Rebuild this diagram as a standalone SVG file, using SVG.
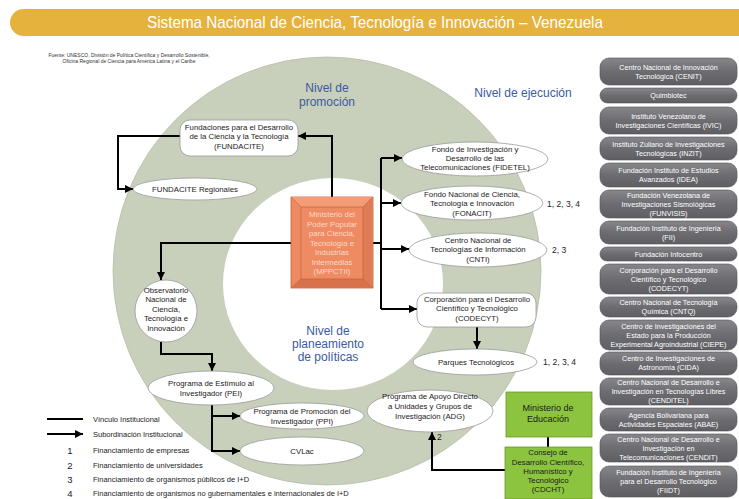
<svg xmlns="http://www.w3.org/2000/svg" width="739" height="499" viewBox="0 0 739 499">
<defs>
<marker id="ah" viewBox="0 0 10 10" refX="10" refY="5" markerWidth="9" markerHeight="8" markerUnits="userSpaceOnUse" orient="auto"><path d="M0,0 L10,5 L0,10 z" fill="#000"/></marker>
<linearGradient id="pg" x1="0" y1="0" x2="0" y2="1"><stop offset="0" stop-color="#86868b"/><stop offset="0.5" stop-color="#6c6c71"/><stop offset="1" stop-color="#5e5e63"/></linearGradient>
</defs>
<style>
text{font-family:"Liberation Sans",Arial,sans-serif}
.n{font-size:7.8px;fill:#1a1a1a;text-anchor:middle}
.ell{fill:#fff;stroke:#9a9a9a;stroke-width:0.8}
.rr{fill:#fff;stroke:#9a9a9a;stroke-width:0.8}
.c{fill:none;stroke:#000;stroke-width:2}
.ca{fill:none;stroke:#000;stroke-width:2;marker-end:url(#ah)}
.pill{fill:url(#pg);stroke:#505055;stroke-width:0.6}
.pt{font-size:7.2px;fill:#fff;text-anchor:middle}
.bl{font-size:12px;fill:#3b5aa0;text-anchor:middle}
.num{font-size:8.5px;fill:#222}
.lg{font-size:7.5px;fill:#222}
.gr{fill:#8cc43f;stroke:#6a9a2c;stroke-width:0.8}
</style>
<rect width="739" height="499" fill="#fff"/>

<g id="banner">
<rect x="10" y="9" width="745" height="27" rx="13.5" fill="#e5b33d"/>
<text x="375" y="28" font-size="17" fill="#fff" text-anchor="middle" textLength="456" lengthAdjust="spacingAndGlyphs">Sistema Nacional de Ciencia, Tecnología e Innovación – Venezuela</text>
</g>
<g id="source" font-size="5" fill="#333" text-anchor="middle">
<text x="129" y="56.5">Fuente: UNESCO, División de Política Científica y Desarrollo Sostenible,</text>
<text x="129" y="62.5">Oficina Regional de Ciencia para América Latina y el Caribe</text>
</g>

<g id="rings">
<circle cx="327" cy="271" r="214" fill="#c8cfba" stroke="#b7bfa8" stroke-width="0.8"/>
<ellipse cx="333" cy="284" rx="110" ry="106" fill="#fff"/>
</g>

<g id="levels">
<text class="bl" x="327" y="92">Nivel de</text>
<text class="bl" x="327" y="106">promoción</text>
<text class="bl" x="523" y="97">Nivel de ejecución</text>
<text class="bl" x="328" y="335" font-size="12.5">Nivel de</text>
<text class="bl" x="328" y="348" font-size="12.5">planeamiento</text>
<text class="bl" x="328" y="361" font-size="12.5">de políticas</text>
</g>

<g id="connectors">
<path class="ca" d="M332 197 V136 H298"/>
<path class="ca" d="M180 136 H118 V189 H133"/>
<path class="ca" d="M291 243 H161 V280"/>
<path class="ca" d="M161 342 V354 H212 V371"/>
<path class="ca" d="M212 405 V451 H240"/>
<path class="ca" d="M212 416 H240"/>
<path class="c" d="M373 243 H381 M381 158 V309"/>
<path class="ca" d="M381 158 H402"/>
<path class="ca" d="M381 203 H401"/>
<path class="ca" d="M381 249 H409"/>
<path class="ca" d="M381 309 H417"/>
<path class="ca" d="M477 327 V349"/>
<path class="c" d="M548 437 V447"/>
<path class="ca" d="M505 470 H432 V432"/>
</g>

<g id="fundacite">
<rect class="rr" x="180" y="120" width="118" height="36" rx="10"/>
<text class="n" x="239" y="129.5">Fundaciones para el Desarrollo</text>
<text class="n" x="239" y="139">de la Ciencia y la Tecnología</text>
<text class="n" x="239" y="148.5">(FUNDACITE)</text>
</g>
<g id="fundacite-regionales">
<ellipse class="ell" cx="195" cy="189" rx="62" ry="11"/>
<text class="n" x="195" y="191.8">FUNDACITE Regionales</text>
</g>

<g id="mppctii">
<rect x="291" y="197" width="82" height="91" fill="#ee8a62" stroke="#c4623e" stroke-width="0.8"/>
<path d="M291 197 L301 207 H363 L373 197 Z" fill="#f29c78"/>
<path d="M291 288 L301 279 H363 L373 288 Z" fill="#d8724c"/>
<path d="M373 197 L363 207 V279 L373 288 Z" fill="#e07c55"/>
<rect x="301" y="207" width="62" height="72" fill="#ef8b62" stroke="#c4623e" stroke-width="0.7"/>
<path d="M291 197 L301 207 M373 197 L363 207 M291 288 L301 279 M373 288 L363 279" stroke="#c4623e" stroke-width="0.7"/>
<g font-size="7.8" fill="#fcd8c8" text-anchor="middle">
<text x="332" y="217">Ministerio del</text>
<text x="332" y="226.5">Poder Popular</text>
<text x="332" y="236">para Ciencia,</text>
<text x="332" y="245.5">Tecnología e</text>
<text x="332" y="255">Industrias</text>
<text x="332" y="264.5">Intermedias</text>
<text x="332" y="274">(MPPCTII)</text>
</g>
</g>

<g id="observatorio">
<circle class="ell" cx="166" cy="311" r="31"/>
<text class="n" x="166" y="292.6">Observatorio</text>
<text class="n" x="166" y="301.9">Nacional de</text>
<text class="n" x="166" y="311.5">Ciencia,</text>
<text class="n" x="166" y="321.4">Tecnología e</text>
<text class="n" x="166" y="330.6">Innovación</text>
</g>
<g id="pei">
<ellipse class="ell" cx="211" cy="388" rx="63" ry="17"/>
<text class="n" x="211" y="385.6">Programa de Estímulo al</text>
<text class="n" x="211" y="395.6">Investigador (PEI)</text>
</g>
<g id="ppi">
<ellipse class="ell" cx="302" cy="416" rx="62" ry="13"/>
<text class="n" x="302" y="414.3">Programa de Promoción del</text>
<text class="n" x="302" y="423.6">Investigador (PPI)</text>
</g>
<g id="cvlac">
<ellipse class="ell" cx="302" cy="451" rx="62" ry="14"/>
<text class="n" x="302" y="454.2" font-size="9">CVLac</text>
</g>
<g id="adg">
<ellipse class="ell" cx="430" cy="411" rx="63" ry="21"/>
<text class="n" x="430" y="399.3">Programa de Apoyo Directo</text>
<text class="n" x="430" y="409.3">a Unidades y Grupos de</text>
<text class="n" x="430" y="418.6">Investigación (ADG)</text>
</g>
<text class="num" x="437" y="440">2</text>

<g id="fidetel">
<ellipse class="ell" cx="475" cy="159" rx="73" ry="17"/>
<text class="n" x="475" y="151.6">Fondo de Investigación y</text>
<text class="n" x="475" y="160.6">Desarrollo de las</text>
<text class="n" x="475" y="170.4">Telecomunicaciones (FIDETEL)</text>
</g>
<g id="fonacit">
<ellipse class="ell" cx="472" cy="203" rx="71" ry="17"/>
<text class="n" x="472" y="196.6">Fondo Nacional de Ciencia,</text>
<text class="n" x="472" y="206.2">Tecnología e Innovación</text>
<text class="n" x="472" y="215.6">(FONACIT)</text>
</g>
<text class="num" x="547" y="207">1, 2, 3, 4</text>
<g id="cnti">
<ellipse class="ell" cx="478" cy="250" rx="69" ry="17"/>
<text class="n" x="478" y="242.6">Centro Nacional de</text>
<text class="n" x="478" y="252.4">Tecnologías de Información</text>
<text class="n" x="478" y="261.6">(CNTI)</text>
</g>
<text class="num" x="552" y="253">2, 3</text>
<g id="codecyt">
<rect class="rr" x="417" y="293" width="119" height="34" rx="10"/>
<text class="n" x="477" y="301.6">Corporación para el Desarrollo</text>
<text class="n" x="477" y="311.4">Científico y Tecnológico</text>
<text class="n" x="477" y="321.4">(CODECYT)</text>
</g>
<g id="parques">
<ellipse class="ell" cx="475" cy="362" rx="62" ry="13"/>
<text class="n" x="476" y="364.8">Parques Tecnológicos</text>
</g>
<text class="num" x="543" y="365">1, 2, 3, 4</text>

<g id="ministerio-educacion">
<rect class="gr" x="506" y="392" width="86" height="45"/>
<text x="548" y="411" font-size="9" fill="#1a1a1a" text-anchor="middle">Ministerio de</text>
<text x="548" y="421.5" font-size="9" fill="#1a1a1a" text-anchor="middle">Educación</text>
</g>
<g id="cdcht">
<rect class="gr" x="505" y="447" width="87" height="52"/>
<text class="n" x="548" y="455.4">Consejo de</text>
<text class="n" x="548" y="465">Desarrollo Científico,</text>
<text class="n" x="548" y="474.4">Humanístico y</text>
<text class="n" x="548" y="483.4">Tecnológico</text>
<text class="n" x="548" y="492">(CDCHT)</text>
</g>

<g id="executors">
<rect class="pill" x="600" y="58" width="137" height="27" rx="9"/>
<text class="pt" x="668.5" y="69.5">Centro Nacional de Innovación</text>
<text class="pt" x="668.5" y="78.5">Tecnológica (CENIT)</text>
<rect class="pill" x="600" y="88" width="137" height="15" rx="7.5"/>
<text class="pt" x="668.5" y="98">Quimbiotec</text>
<rect class="pill" x="600" y="107" width="137" height="27" rx="9"/>
<text class="pt" x="668.5" y="118.5">Instituto Venezolano de</text>
<text class="pt" x="668.5" y="127.5">Investigaciones Científicas (IVIC)</text>
<rect class="pill" x="600" y="137" width="137" height="23" rx="9"/>
<text class="pt" x="668.5" y="146.5">Instituto Zuliano de Investigaciones</text>
<text class="pt" x="668.5" y="155.5">Tecnológicas (INZIT)</text>
<rect class="pill" x="600" y="163" width="137" height="24" rx="9"/>
<text class="pt" x="668.5" y="173">Fundación Instituto de Estudios</text>
<text class="pt" x="668.5" y="182">Avanzados (IDEA)</text>
<rect class="pill" x="600" y="190" width="137" height="28" rx="9"/>
<text class="pt" x="668.5" y="197.5">Fundación Venezolana de</text>
<text class="pt" x="668.5" y="206.5">Investigaciones Sismológicas</text>
<text class="pt" x="668.5" y="215.5">(FUNVISIS)</text>
<rect class="pill" x="600" y="221" width="137" height="23" rx="9"/>
<text class="pt" x="668.5" y="230.5">Fundación Instituto de Ingeniería</text>
<text class="pt" x="668.5" y="239.5">(FII)</text>
<rect class="pill" x="600" y="247" width="137" height="14" rx="7"/>
<text class="pt" x="668.5" y="256.5">Fundación Infocentro</text>
<rect class="pill" x="600" y="264" width="137" height="30" rx="9"/>
<text class="pt" x="668.5" y="272.5">Corporación para el Desarrollo</text>
<text class="pt" x="668.5" y="281.5">Científico y Tecnológico</text>
<text class="pt" x="668.5" y="290.5">(CODECYT)</text>
<rect class="pill" x="600" y="297" width="137" height="20" rx="9"/>
<text class="pt" x="668.5" y="305">Centro Nacional de Tecnología</text>
<text class="pt" x="668.5" y="314">Química (CNTQ)</text>
<rect class="pill" x="600" y="320" width="137" height="30" rx="9"/>
<text class="pt" x="668.5" y="328.5">Centro de Investigaciones del</text>
<text class="pt" x="668.5" y="337.5">Estado para la Producción</text>
<text class="pt" x="668.5" y="346.5">Experimental Agroindustrial (CIEPE)</text>
<rect class="pill" x="600" y="352" width="137" height="23" rx="9"/>
<text class="pt" x="668.5" y="361">Centro de Investigaciones de</text>
<text class="pt" x="668.5" y="370">Astronomía (CIDA)</text>
<rect class="pill" x="600" y="378" width="137" height="27" rx="9"/>
<text class="pt" x="668.5" y="385">Centro Nacional de Desarrollo e</text>
<text class="pt" x="668.5" y="394">Investigación en Tecnologías Libres</text>
<text class="pt" x="668.5" y="403">(CENDITEL)</text>
<rect class="pill" x="600" y="408" width="137" height="23" rx="9"/>
<text class="pt" x="668.5" y="417.5">Agencia Bolivariana para</text>
<text class="pt" x="668.5" y="426.5">Actividades Espaciales (ABAE)</text>
<rect class="pill" x="600" y="434" width="137" height="28" rx="9"/>
<text class="pt" x="668.5" y="441.5">Centro Nacional de Desarrollo e</text>
<text class="pt" x="668.5" y="450.5">Investigación en</text>
<text class="pt" x="668.5" y="459.5">Telecomunicaciones (CENDIT)</text>
<rect class="pill" x="600" y="466" width="137" height="31" rx="9"/>
<text class="pt" x="668.5" y="475">Fundación Instituto de Ingeniería</text>
<text class="pt" x="668.5" y="484">para el Desarrollo Tecnológico</text>
<text class="pt" x="668.5" y="493">(FIIDT)</text>
</g>

<g id="legend">
<path class="c" d="M47 419 H83"/>
<path class="ca" d="M47 434 H83"/>
<text class="lg" x="93" y="421.6">Vínculo Institucional</text>
<text class="lg" x="93" y="436.6">Subordinación Institucional</text>
<g font-size="9.5" fill="#222" text-anchor="middle">
<text x="70" y="453.5">1</text>
<text x="70" y="469">2</text>
<text x="70" y="483">3</text>
<text x="70" y="496.5">4</text>
</g>
<text class="lg" x="93" y="452.6">Financiamiento de empresas</text>
<text class="lg" x="93" y="468">Financiamiento de universidades</text>
<text class="lg" x="93" y="482">Financiamiento de organismos públicos de I+D</text>
<text class="lg" x="93" y="495.5">Financiamiento de organismos no gubernamentales e internacionales de I+D</text>
</g>
</svg>
